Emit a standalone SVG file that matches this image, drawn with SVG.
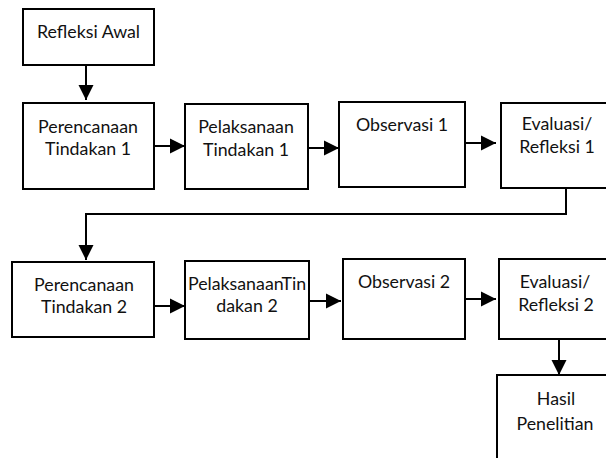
<svg xmlns="http://www.w3.org/2000/svg" width="606" height="458" viewBox="0 0 606 458">
<style>
.box{fill:#fff;stroke:#000;stroke-width:2}
.lbl{font-family:Lato,"Liberation Sans",sans-serif;font-size:17.8px;fill:#111;text-anchor:middle}
.con{fill:none;stroke:#000;stroke-width:2;marker-end:url(#ah)}
</style>
<defs>
<marker id="ah" markerUnits="userSpaceOnUse" markerWidth="16" markerHeight="16" refX="15" refY="8" orient="auto" viewBox="0 0 16 16">
<path d="M0,0.5 L15,8 L0,15.5 z" fill="#000"/>
</marker>
</defs>
<rect width="606" height="458" fill="#fff"/>
<g id="n-refleksi-awal"><rect class="box" x="23" y="9" width="131" height="56"/><text class="lbl" x="88.5" y="38">Refleksi Awal</text></g>
<g id="n-perencanaan-1"><rect class="box" x="23" y="103" width="131" height="86"/><text class="lbl" x="88" y="133">Perencanaan</text><text class="lbl" x="88" y="155">Tindakan 1</text></g>
<g id="n-pelaksanaan-1"><rect class="box" x="185" y="104" width="123" height="85"/><text class="lbl" x="246" y="133">Pelaksanaan</text><text class="lbl" x="246" y="156">Tindakan 1</text></g>
<g id="n-observasi-1"><rect class="box" x="339" y="102" width="126" height="85"/><text class="lbl" x="402" y="131">Observasi 1</text></g>
<g id="n-evaluasi-1"><rect class="box" x="501" y="103" width="120" height="85"/><text class="lbl" x="557" y="130">Evaluasi/</text><text class="lbl" x="557" y="153">Refleksi 1</text></g>
<g id="n-perencanaan-2"><rect class="box" x="12" y="262" width="142" height="75"/><text class="lbl" x="84" y="291">Perencanaan</text><text class="lbl" x="84" y="313">Tindakan 2</text></g>
<g id="n-pelaksanaan-2"><rect class="box" x="185" y="261" width="124" height="78"/><text class="lbl" x="247" y="290">PelaksanaanTin</text><text class="lbl" x="247" y="312">dakan 2</text></g>
<g id="n-observasi-2"><rect class="box" x="343" y="259" width="122" height="80"/><text class="lbl" x="404" y="288">Observasi 2</text></g>
<g id="n-evaluasi-2"><rect class="box" x="499" y="259" width="120" height="80"/><text class="lbl" x="555" y="288">Evaluasi/</text><text class="lbl" x="556" y="311">Refleksi 2</text></g>
<g id="n-hasil"><rect class="box" x="497" y="375" width="120" height="95"/><text class="lbl" x="556" y="405">Hasil</text><text class="lbl" x="555" y="430">Penelitian</text></g>
<g id="connectors">
<path class="con" d="M86,65 V100"/>
<path class="con" d="M154,146 H185"/>
<path class="con" d="M308,148 H339"/>
<path class="con" d="M465,143 H496"/>
<path class="con" d="M566,188 V214 H86 V260"/>
<path class="con" d="M154,306 H185"/>
<path class="con" d="M309,301 H341"/>
<path class="con" d="M465,299 H496"/>
<path class="con" d="M559,339 V375"/>
</g>
</svg>
